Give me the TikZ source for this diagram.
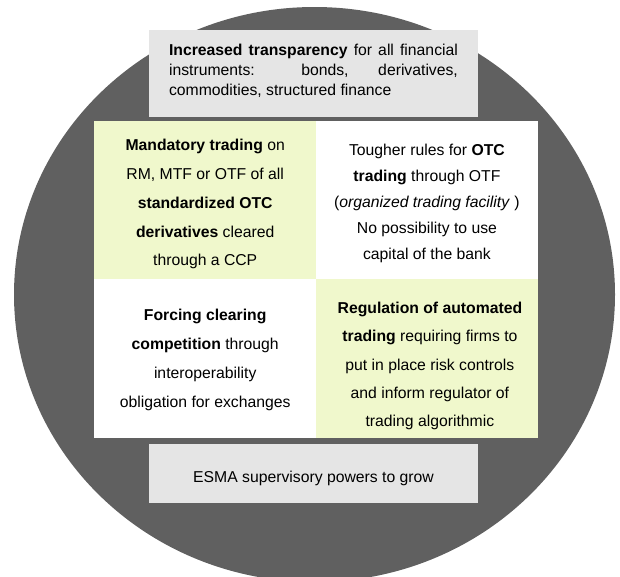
\documentclass[tikz,border=0pt]{standalone}
\usepackage{fontspec}
\setmainfont{Liberation Sans}
\usetikzlibrary{positioning}

\definecolor{ringgray}{RGB}{96,96,96}
\definecolor{bandgray}{RGB}{229,229,229}
\definecolor{cellgreen}{RGB}{240,248,204}

\begin{document}
\begin{tikzpicture}[x=2.5mm,y=2.5mm,
  every node/.style={inner sep=0pt,outer sep=0pt},
  band/.style={fill=bandgray,minimum width=82.25mm},
  cell/.style={minimum width=55.43mm,minimum height=39.6mm},
  celltext/.style={align=center,font=\fontsize{11.2}{20.5}\selectfont}]
\useasboundingbox (0,0) rectangle (62,-57.6);
\fill [ringgray] (31.45,-29.45) ellipse [x radius=30.05,y radius=28.75];
\node [band,minimum height=21.7mm] (top) at (31.35,-7.34) {};
\node [band,minimum height=14.75mm] (esma) at (31.35,-47.36) {};
\node [cell,fill=cellgreen] (tl) at (20.52,-20) {};
\node [cell,fill=white,right=0pt of tl] (tr) {};
\node [cell,fill=white,below=0pt of tl] (bl) {};
\node [cell,fill=cellgreen,right=0pt of bl] (br) {};
\node [text width=72.2mm,align=justify,font=\fontsize{11.2}{14.2}\selectfont] (toptext) at ([yshift=0.6mm]top.center)
  {\textbf{Increased transparency} for all financial\linebreak instruments: bonds, derivatives,\linebreak commodities, structured finance};
\node [font=\fontsize{11.2}{14.2}\selectfont] (esmatext) at ([yshift=-1.1mm]esma.center) {ESMA supervisory powers to grow};
\node [celltext] (tltext) at ([yshift=-1.05mm]tl.center)
  {\textbf{Mandatory trading} on\\RM, MTF or OTF of all\\\textbf{standardized OTC}\\\textbf{derivatives} cleared\\through a CCP};
\node [celltext,font=\fontsize{11.2}{18.5}\selectfont] (trtext) at ([yshift=-0.75mm]tr.center)
  {Tougher rules for \textbf{OTC}\\\textbf{trading} through OTF\\(\textit{organized trading facility} )\\No possibility to use\\capital of the bank};
\node [celltext] (bltext) at ([yshift=-0.43mm]bl.center)
  {\textbf{Forcing clearing}\\\textbf{competition} through\\interoperability\\obligation for exchanges};
\node [celltext,font=\fontsize{11.2}{20.2}\selectfont] (brtext) at ([xshift=0.75mm,yshift=-1.9mm]br.center)
  {\textbf{Regulation of automated}\\\textbf{trading} requiring firms to\\put in place risk controls\\and inform regulator of\\trading algorithmic};
\end{tikzpicture}
\end{document}
